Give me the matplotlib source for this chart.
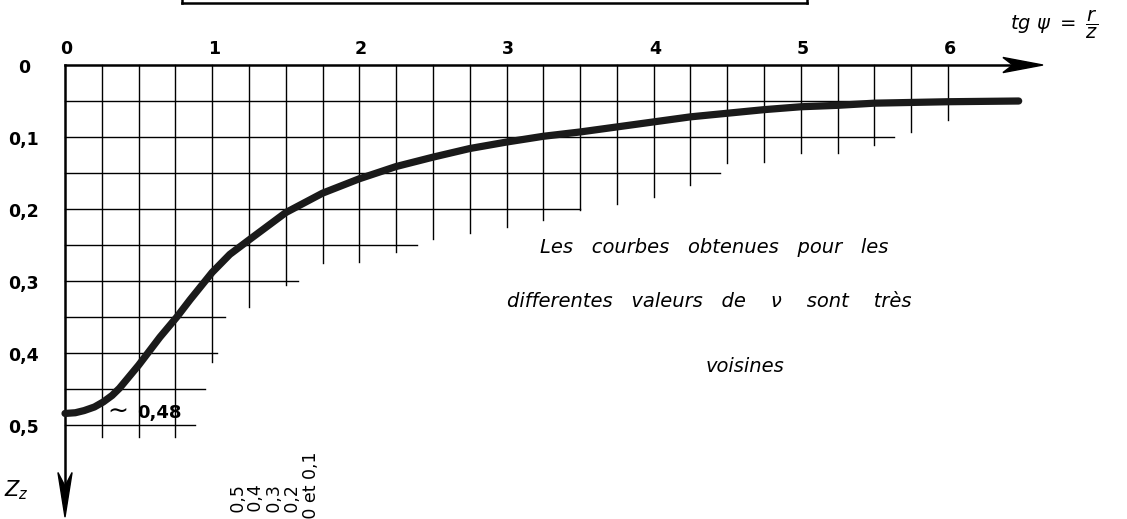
import numpy as np
import matplotlib.pyplot as plt
from matplotlib.patches import Polygon
from matplotlib.lines import Line2D

# Courbe z(tg psi)
tg_psi = [0.0, 0.07, 0.13, 0.2, 0.26, 0.32, 0.37, 0.5, 0.645, 0.76, 0.85, 1.0,
          1.12, 1.25, 1.5, 1.75, 2.0, 2.25, 2.5, 2.75, 3.0, 3.25, 3.5, 3.75, 4.0,
          4.25, 4.5, 4.75, 5.0, 5.25, 5.5, 5.75, 6.0, 6.48]
z_courbe = [0.484, 0.483, 0.480, 0.475, 0.468, 0.459, 0.449, 0.417, 0.378, 0.35,
            0.326, 0.288, 0.263, 0.243, 0.205, 0.178, 0.158, 0.141, 0.128, 0.116,
            0.107, 0.099, 0.093, 0.086, 0.079, 0.072, 0.067, 0.062, 0.058, 0.056,
            0.053, 0.052, 0.051, 0.050]

# Quadrillage en escalier : lignes verticales (x, profondeur atteinte)
grille_x = [0.25, 0.5, 0.75, 1.0, 1.25, 1.5, 1.75, 2.0, 2.25, 2.5, 2.75, 3.0,
            3.25, 3.5, 3.75, 4.0, 4.25, 4.5, 4.75, 5.0, 5.25, 5.5, 5.75, 6.0]
grille_x_fin = [0.517, 0.517, 0.517, 0.4125, 0.336, 0.306, 0.275, 0.274, 0.26,
                0.242, 0.233, 0.225, 0.215, 0.201, 0.193, 0.183, 0.167, 0.136,
                0.135, 0.122, 0.122, 0.111, 0.093, 0.076]
# lignes horizontales (z, abscisse atteinte)
grille_z = [0.05, 0.10, 0.15, 0.20, 0.25, 0.30, 0.35, 0.40, 0.45, 0.50]
grille_z_fin = [6.0, 5.63, 4.45, 3.5, 2.39, 1.58, 1.09, 1.03, 0.95, 0.88]

ticks_x = [0, 1, 2, 3, 4, 5, 6]
labels_x = ['0', '1', '2', '3', '4', '5', '6']
ticks_z = [0, 0.1, 0.2, 0.3, 0.4, 0.5]
labels_z = ['0', '0,1', '0,2', '0,3', '0,4', '0,5']

valeurs_nu = ['ν = 0,5', 'ν = 0,4', 'ν = 0,3', 'ν = 0,2', 'ν = 0 et 0,1']

fig = plt.figure(figsize=(11.27, 5.19), dpi=100)
ax = fig.add_axes([0, 0, 1, 1])
ax.set_xlim(-0.4417, 7.216)
ax.set_ylim(0.6306, -0.0903)
ax.axis('off')

# Quadrillage
for x, fin in zip(grille_x, grille_x_fin):
    ax.plot([x, x], [0, fin], color='black', lw=1.0)
for z, fin in zip(grille_z, grille_z_fin):
    ax.plot([0, fin], [z, z], color='black', lw=1.0)

# Axes avec flèches
ax.plot([0, 6.45], [0, 0], color='black', lw=1.8)
ax.add_patch(Polygon([(6.645, 0), (6.373, -0.0105), (6.44, 0), (6.373, 0.0105)],
                     closed=True, color='black'))
ax.plot([0, 0], [0, 0.59], color='black', lw=1.8)
ax.add_patch(Polygon([(0, 0.628), (-0.048, 0.566), (0, 0.585), (0.048, 0.566)],
                     closed=True, color='black'))

# Courbe
ax.plot(tg_psi, z_courbe, color='#1a1a1a', lw=5.2, solid_capstyle='round',
        solid_joinstyle='round')

# Graduations
for t, lab in zip(ticks_x, labels_x):
    ax.text(t + 0.01, -0.022, lab, ha='center', va='center', fontsize=12.5,
            fontweight='bold')
for t, lab in zip(ticks_z, labels_z):
    ax.text(-0.28, t + 0.004, lab, ha='center', va='center', fontsize=12.5,
            fontweight='bold')

ax.text(0.36, 0.481, '∼', ha='center', va='center', fontsize=18)
ax.text(0.49, 0.483, '0,48', ha='left', va='center', fontsize=13,
        fontweight='bold')

ax.text(-0.33, 0.59, r'$Z_z$', ha='center', va='center', fontsize=15)
ax.text(6.42, -0.056, r'$tg\ \psi\ =\ \dfrac{r}{z}$', ha='left', va='center',
        fontsize=14)

# Texte
ax.text(3.23, 0.254, 'Les   courbes   obtenues   pour   les', ha='left',
        va='center', fontsize=14, style='italic')
ax.text(3.0, 0.329, 'differentes   valeurs   de    ν    sont    très', ha='left',
        va='center', fontsize=14, style='italic')
ax.text(4.35, 0.419, 'voisines', ha='left', va='center', fontsize=14,
        style='italic')

# Valeurs de nu, en travers, coupées par le bas
pos_nu = [1.18, 1.30, 1.43, 1.55, 1.67]
haut_nu = [0.583, 0.583, 0.583, 0.583, 0.537]
for x, h, lab in zip(pos_nu, haut_nu, valeurs_nu):
    ax.text(x, h, lab, rotation=90, rotation_mode='anchor', ha='right',
            va='center', fontsize=12.5)

# Bas du cadre du titre
fig.add_artist(Line2D([0.1615, 0.716], [0.994, 0.994], color='black', lw=1.8))
fig.add_artist(Line2D([0.1615, 0.1615], [0.994, 1.0], color='black', lw=1.8))
fig.add_artist(Line2D([0.716, 0.716], [0.994, 1.0], color='black', lw=1.8))

fig.savefig('out.png', dpi=100)
